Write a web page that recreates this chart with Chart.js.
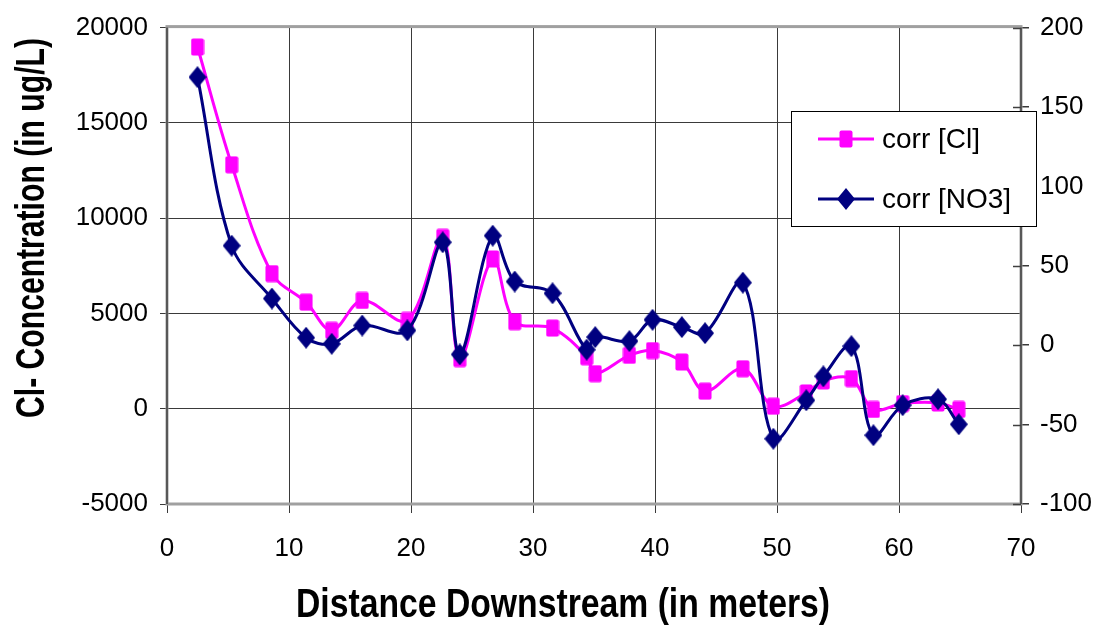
<!DOCTYPE html>
<html><head><meta charset="utf-8">
<script src="https://cdn.jsdelivr.net/npm/chart.js@4.4.1/dist/chart.umd.min.js"></script>
<style>html,body{margin:0;padding:0;background:#fff;overflow:hidden}canvas{display:block}</style>
</head><body>
<canvas id="c" width="1097" height="630"></canvas>
<script>
// ---- data ----
const distance = [2.5, 5.3, 8.6, 11.4, 13.5, 16.0, 19.7, 22.6, 24.0, 26.7, 28.5, 31.6, 34.4, 35.1, 37.9, 39.8, 42.2, 44.1, 47.2, 49.7, 52.4, 53.8, 56.1, 57.9, 60.3, 63.2, 64.9];
const clValues = [18980, 12800, 7090, 5590, 4110, 5680, 4630, 8990, 2630, 7860, 4570, 4230, 2730, 1840, 2800, 3050, 2450, 920, 2100, 130, 830, 1460, 1580, -40, 270, 300, -40];
const no3Values = [168.8, 62.7, 29.4, 4.7, 0.9, 12.4, 9.3, 64.8, -5.8, 69.0, 40.1, 32.7, -2.8, 5.1, 2.6, 16.0, 11.4, 7.6, 39.4, -58.9, -34.7, -19.6, -0.6, -56.7, -37.8, -34.0, -49.8];
const xTicks = [0, 10, 20, 30, 40, 50, 60, 70];
const leftTicks = [-5000, 0, 5000, 10000, 15000, 20000];
const rightTicks = [-100, -50, 0, 50, 100, 150, 200];
const seriesNames = ['corr [Cl]', 'corr [NO3]'];
const xTitle = 'Distance Downstream (in meters)';
const yTitle = 'Cl- Concentration (in ug/L)';

const PINK = '#FF00FF', NAVY = '#000080';
const TICK_FONT = {family: "'Liberation Sans', Arial, sans-serif", size: 26};
const GRID = '#3a3a3a';

function makeSquare() {
  const c = document.createElement('canvas'); c.width = 14; c.height = 18;
  const g = c.getContext('2d'); g.fillStyle = PINK;
  g.beginPath(); g.roundRect(0.5, 0.5, 13, 17, 2); g.fill(); return c;
}
function makeDiamond() {
  const c = document.createElement('canvas'); c.width = 18; c.height = 22;
  const g = c.getContext('2d'); g.fillStyle = NAVY;
  g.beginPath(); g.moveTo(9, 0); g.lineTo(18, 11); g.lineTo(9, 22); g.lineTo(0, 11); g.closePath(); g.fill(); return c;
}
const squareImg = makeSquare(), diamondImg = makeDiamond();

function fitText(ctx, text, cx, cy, rot, targetW, font) {
  ctx.save(); ctx.font = font;
  const w = ctx.measureText(text).width;
  ctx.translate(cx, cy); ctx.rotate(rot); ctx.scale(targetW / w, 1);
  ctx.textAlign = 'center'; ctx.textBaseline = 'alphabetic'; ctx.fillStyle = '#000';
  ctx.fillText(text, 0, 0); ctx.restore();
}

const framePlugin = {
  id: 'frame',
  beforeDatasetsDraw(chart) {
    const {ctx, chartArea: a} = chart;
    ctx.save();
    ctx.strokeStyle = '#a0a0a0'; ctx.lineWidth = 3;
    ctx.strokeRect(a.left, a.top - 1, a.right - a.left, a.bottom - a.top + 1);
    ctx.strokeStyle = '#404040'; ctx.lineWidth = 1.5;
    ctx.beginPath();
    ctx.moveTo(a.left, a.top); ctx.lineTo(a.left, a.bottom);
    ctx.moveTo(a.right, a.top); ctx.lineTo(a.right, a.bottom);
    // inner half of the right-axis ticks
    const y2 = chart.scales.y2;
    rightTicks.forEach(v => { const py = Math.round(y2.getPixelForValue(v)) + 0.5; ctx.moveTo(a.right - 8, py); ctx.lineTo(a.right, py); });
    ctx.stroke();
    ctx.restore();
  },
  afterDraw(chart) {
    const {ctx} = chart;
    // axis titles
    fitText(ctx, xTitle, 563, 617, 0, 534, "bold 40px 'Liberation Sans Narrow', 'Liberation Sans', Arial, sans-serif");
    fitText(ctx, yTitle, 44, 228, -Math.PI / 2, 380, "bold 40px 'Liberation Sans Narrow', 'Liberation Sans', Arial, sans-serif");
    // legend
    ctx.save();
    ctx.fillStyle = '#fff'; ctx.fillRect(791, 111, 246, 116);
    ctx.strokeStyle = '#000'; ctx.lineWidth = 1; ctx.strokeRect(791.5, 111.5, 245, 115);
    const items = [{c: PINK, img: squareImg, y: 139}, {c: NAVY, img: diamondImg, y: 199}];
    ctx.font = "28px 'Liberation Sans', Arial, sans-serif"; ctx.textBaseline = 'middle'; ctx.fillStyle = '#000';
    items.forEach((it, i) => {
      ctx.strokeStyle = it.c; ctx.lineWidth = 3;
      ctx.beginPath(); ctx.moveTo(818, it.y); ctx.lineTo(874, it.y); ctx.stroke();
      ctx.drawImage(it.img, 846 - it.img.width / 2, it.y - it.img.height / 2);
      ctx.fillText(seriesNames[i], 882, it.y + 1);
    });
    ctx.restore();
  }
};

new Chart(document.getElementById('c'), {
  type: 'line',
  data: {
    datasets: [
      {label: seriesNames[0], yAxisID: 'y', order: 2,
       data: distance.map((x, i) => ({x, y: clValues[i]})),
       borderColor: PINK, backgroundColor: PINK, borderWidth: 3, tension: 0.35,
       pointStyle: squareImg, pointRadius: 9, fill: false},
      {label: seriesNames[1], yAxisID: 'y2', order: 1,
       data: distance.map((x, i) => ({x, y: no3Values[i]})),
       borderColor: NAVY, backgroundColor: NAVY, borderWidth: 3, tension: 0.35,
       pointStyle: diamondImg, pointRadius: 9, fill: false}
    ]
  },
  options: {
    responsive: false, animation: false, devicePixelRatio: 1, events: [],
    layout: {padding: {top: 26, left: 0, right: 0, bottom: 0}},
    plugins: {legend: {display: false}, tooltip: {enabled: false}},
    scales: {
      x: {type: 'linear', min: 0, max: 70,
          afterBuildTicks: s => { s.ticks = xTicks.map(v => ({value: v})); },
          afterFit: s => { s.height = 126; },
          grid: {color: GRID, lineWidth: 1, tickLength: 9},
          border: {display: false},
          ticks: {font: TICK_FONT, color: '#000', padding: 20, maxRotation: 0}},
      y: {type: 'linear', position: 'left', min: -5000, max: 20000,
          afterBuildTicks: s => { s.ticks = leftTicks.map(v => ({value: v})); },
          afterFit: s => { s.width = 167; },
          grid: {color: GRID, lineWidth: 1, tickLength: 7},
          border: {display: false},
          ticks: {font: TICK_FONT, color: '#000', padding: 12, callback: v => String(v)}},
      y2: {type: 'linear', position: 'right', min: -100, max: 200,
          afterBuildTicks: s => { s.ticks = rightTicks.map(v => ({value: v})); },
          afterFit: s => { s.width = 76; },
          grid: {drawOnChartArea: false, color: GRID, lineWidth: 1.5, tickLength: 8},
          border: {display: false},
          ticks: {font: TICK_FONT, color: '#000', padding: 11, callback: v => String(v)}}
    }
  },
  plugins: [framePlugin]
});
</script>
</body></html>
